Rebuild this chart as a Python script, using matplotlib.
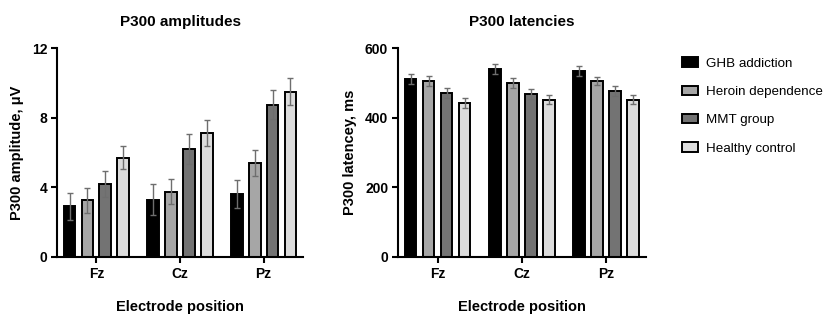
import numpy as np
import matplotlib.pyplot as plt

plt.rcParams['font.family'] = ['Liberation Sans', 'DejaVu Sans']

positions = ['Fz', 'Cz', 'Pz']
groups = ['GHB addiction', 'Heroin dependence', 'MMT group', 'Healthy control']
colors = ['#000000', '#a6a6a6', '#737373', '#dcdcdc']

# amplitudes (uV), rows = groups, cols = Fz, Cz, Pz
amp_mean = [[2.9, 3.3, 3.6],
            [3.25, 3.75, 5.4],
            [4.2, 6.2, 8.75],
            [5.7, 7.1, 9.5]]
amp_err = [[0.75, 0.9, 0.8],
           [0.7, 0.7, 0.75],
           [0.75, 0.85, 0.85],
           [0.65, 0.75, 0.8]]

# latencies (ms)
lat_mean = [[511, 540, 534],
            [505, 500, 505],
            [471, 468, 477],
            [442, 451, 452]]
lat_err = [[15, 14, 14],
           [14, 15, 12],
           [14, 15, 14],
           [15, 13, 12]]

fig = plt.figure(figsize=(8.29, 3.21), dpi=100)
ax1 = fig.add_axes([0.0688, 0.1994, 0.2967, 0.651])
ax2 = fig.add_axes([0.480, 0.1994, 0.299, 0.651])

x = np.arange(len(positions))
offsets = [-0.32, -0.107, 0.107, 0.32]
width = 0.14


def draw(ax, means, errs, ymax, yticks, ylabel, title):
    for i, g in enumerate(groups):
        ax.bar(x + offsets[i], means[i], width, color=colors[i], edgecolor='black',
               linewidth=1.4, label=g, zorder=2)
        ax.errorbar(x + offsets[i], means[i], yerr=errs[i], fmt='none', ecolor='#6e6e6e',
                    elinewidth=1.0, capsize=2.2, capthick=1.0, zorder=3)
    ax.set_xlim(-0.47, 2.47)
    ax.set_ylim(0, ymax)
    ax.set_yticks(yticks)
    ax.set_xticks(x)
    ax.set_xticklabels(positions, fontweight='bold', fontsize=10)
    for lbl in ax.get_yticklabels():
        lbl.set_fontweight('bold')
        lbl.set_fontsize(10)
    for s in ['top', 'right']:
        ax.spines[s].set_visible(False)
    for s in ['left', 'bottom']:
        ax.spines[s].set_linewidth(1.5)
    ax.tick_params(width=1.5, length=4, pad=3)
    ax.set_ylabel(ylabel, fontweight='bold', fontsize=10.5, labelpad=6)
    ax.set_xlabel('Electrode position', fontweight='bold', fontsize=10.5, labelpad=14)
    ax.set_title(title, fontweight='bold', fontsize=11, pad=16)


draw(ax1, amp_mean, amp_err, 12, [0, 4, 8, 12], 'P300 amplitude, \u03bcV', 'P300 amplitudes')
draw(ax2, lat_mean, lat_err, 600, [0, 200, 400, 600], 'P300 latencey, ms', 'P300 latencies')

ax2.legend(loc='upper left', bbox_to_anchor=(1.11, 1.0), frameon=False, fontsize=9.6,
           handlelength=1.2, handleheight=0.7, labelspacing=1.2, handletextpad=0.6,
           borderaxespad=0.3)

fig.savefig('out.png', dpi=100)
